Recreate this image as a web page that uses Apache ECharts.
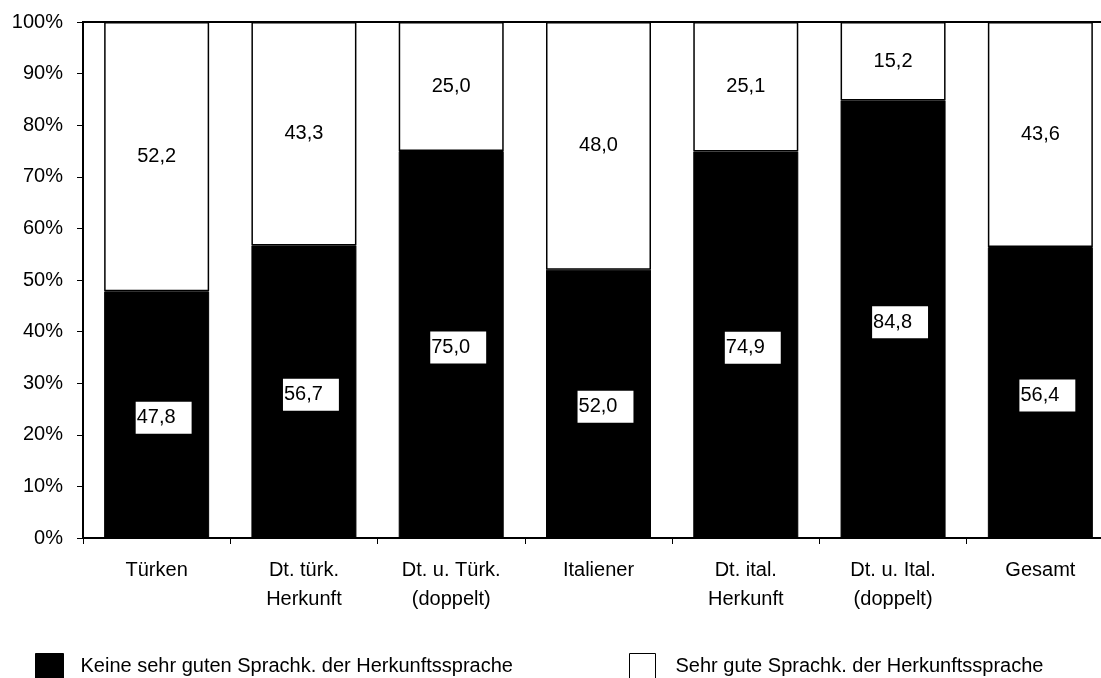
<!DOCTYPE html>
<html><head><meta charset="utf-8">
<script src="https://cdn.jsdelivr.net/npm/echarts@6/dist/echarts.min.js"></script>
<style>html,body{margin:0;padding:0;background:#fff}#c{width:1101px;height:678px}</style>
</head><body><div id="c"></div>
<script>
const categories = ['Türken', 'Dt. türk.\nHerkunft', 'Dt. u. Türk.\n(doppelt)', 'Italiener', 'Dt. ital.\nHerkunft', 'Dt. u. Ital.\n(doppelt)', 'Gesamt'];
const keineSehrGut = [47.8, 56.7, 75.0, 52.0, 74.9, 84.8, 56.4];
const sehrGut = [52.2, 43.3, 25.0, 48.0, 25.1, 15.2, 43.6];
const seriesNames = ['Keine sehr guten Sprachk. der Herkunftssprache', 'Sehr gute Sprachk. der Herkunftssprache'];
const yTicks = [0, 10, 20, 30, 40, 50, 60, 70, 80, 90, 100];

const FONT = "'Liberation Sans', Arial, sans-serif";
const fmt = p => p.value.toFixed(1).replace('.', ',');

const chart = echarts.init(document.getElementById('c'), null, {renderer: 'canvas'});
chart.setOption({
  animation: false,
  backgroundColor: '#fff',
  textStyle: {fontFamily: FONT, color: '#000'},
  grid: {left: 83, top: 22, width: 1031, height: 516, show: true, borderColor: '#000', borderWidth: 2,
         backgroundColor: '#fff', containLabel: false, outerBoundsMode: 'none'},
  legend: [
    {left: 30, top: 648, padding: 5, itemWidth: 28, itemHeight: 26, icon: 'rect',
     textStyle: {fontFamily: FONT, fontSize: 20, color: '#000', padding: [0, 0, 0, 12]},
     data: [{name: seriesNames[0], itemStyle: {color: '#000', borderColor: '#000', borderWidth: 1}}]},
    {left: 624, top: 648, padding: 5, itemWidth: 26, itemHeight: 26, icon: 'rect',
     textStyle: {fontFamily: FONT, fontSize: 20, color: '#000', padding: [0, 0, 0, 15]},
     data: [{name: seriesNames[1], itemStyle: {color: '#fff', borderColor: '#000', borderWidth: 1}}]}
  ],
  xAxis: {
    type: 'category', data: categories,
    axisLine: {lineStyle: {color: '#000', width: 2}},
    axisTick: {show: true, length: 6, lineStyle: {color: '#000', width: 1}},
    axisLabel: {fontFamily: FONT, fontSize: 20, color: '#000', margin: 18, lineHeight: 29, interval: 0}
  },
  yAxis: {
    type: 'value', min: 0, max: 100, interval: 10,
    axisLine: {show: true, lineStyle: {color: '#000', width: 2}},
    axisTick: {show: true, length: 6, lineStyle: {color: '#000', width: 1}},
    splitLine: {show: false},
    axisLabel: {fontFamily: FONT, fontSize: 20, color: '#000', margin: 20,
      formatter: v => yTicks.includes(v) ? v + '%' : ''}
  },
  series: [
    {name: seriesNames[0], type: 'bar', stack: 's', data: keineSehrGut, barWidth: 105,
     itemStyle: {color: '#000', borderColor: '#000', borderWidth: 1},
     label: {show: true, position: 'inside', formatter: fmt, fontFamily: FONT, fontSize: 20, color: '#000',
       backgroundColor: '#fff', padding: [4, 16, 6, 1], lineHeight: 22, offset: [7, 3]}},
    {name: seriesNames[1], type: 'bar', stack: 's', data: sehrGut, barWidth: 105,
     itemStyle: {color: '#fff', borderColor: '#000', borderWidth: 1.5},
     label: {show: true, position: 'inside', formatter: fmt, fontFamily: FONT, fontSize: 20, color: '#000'}}
  ]
});
</script></body></html>
